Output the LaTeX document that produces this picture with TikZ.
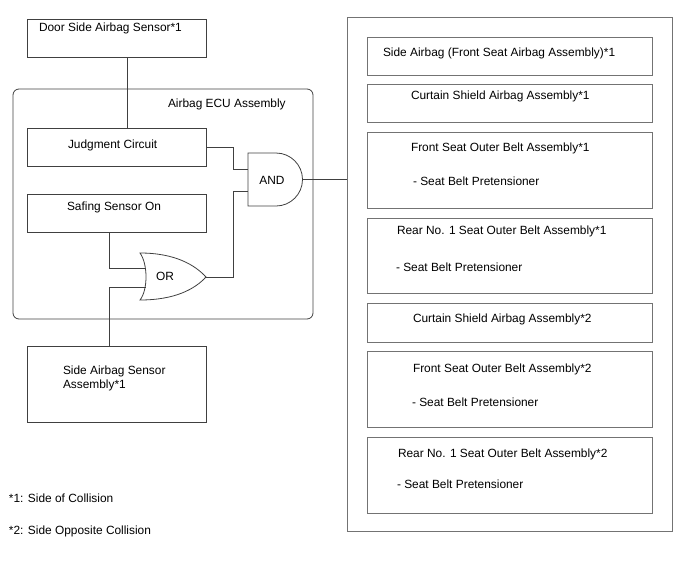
\documentclass[tikz,border=0pt]{standalone}
\usepackage{fontspec}
\setmainfont{Liberation Sans}
\usetikzlibrary{calc}
\begin{document}
\begin{tikzpicture}[x=1pt,y=1pt,
  font=\fontsize{11.9}{14}\selectfont,
  ln/.style={draw=black!75,line width=0.8pt},
  lbox/.style={rectangle,inner sep=0pt,outer sep=0pt,draw=black!75,line width=0.8pt},
  rbox/.style={rectangle,inner sep=0pt,outer sep=0pt,draw=black!55,line width=0.8pt},
  txt/.style={anchor=base west,inner sep=0pt,outer sep=0pt,text=black,align=left},
  ctxt/.style={anchor=center,inner sep=0pt,text=black}]
\useasboundingbox (0,0) rectangle (688,-560);

% left side boxes
\node[lbox,minimum width=179,minimum height=38] (door) at (116.5,-38) {};
\node[lbox,rounded corners=6,minimum width=300,minimum height=230] (ecu) at (163,-204) {};
\node[lbox,minimum width=179,minimum height=38] (jc) at (116.5,-147) {};
\node[lbox,minimum width=179,minimum height=38] (saf) at (116.5,-213) {};
\node[lbox,minimum width=179,minimum height=76] (side) at (116.5,-384) {};

\node[txt] (tdoor) at (39,-31.5) {Door Side Airbag Sensor*1};
\node[txt] (tecu) at (168,-107) {Airbag ECU Assembly};
\node[txt] (tjc) at (68,-148) {Judgment Circuit};
\node[txt] (tsaf) at (67,-210) {Safing Sensor On};
\node[txt] (tside) at (63,-388) {Side Airbag Sensor\\Assembly*1};

% gates
\draw[ln] (248,-153) -- (276,-153) arc[start angle=90,end angle=-90,radius=26.5] -- (248,-206) -- cycle;
\node[ctxt] (tand) at (272,-180) {AND};
\draw[ln] (140,-253) .. controls (175,-253) and (195,-265) .. (206,-277)
  .. controls (195,-289) and (175,-300) .. (140,-300)
  .. controls (148,-290) and (148,-264) .. (140,-253) -- cycle;
\node[ctxt] (tor) at (165,-276) {OR};

\coordinate (andA) at (248,-169);
\coordinate (andB) at (248,-191);
\coordinate (andY) at (302.5,-179.5);
\coordinate (orA) at (145.5,-268);
\coordinate (orB) at (145.5,-287);
\coordinate (orY) at (206,-277);

% right side
\node[rbox,minimum width=325,minimum height=514] (big) at (509.5,-274) {};
\node[rbox,minimum width=285,minimum height=38] (r1) at (509.5,-56) {};
\node[rbox,minimum width=285,minimum height=38] (r2) at (509.5,-103) {};
\node[rbox,minimum width=285,minimum height=76] (r3) at (509.5,-170) {};
\node[rbox,minimum width=285,minimum height=75] (r4) at (509.5,-255.5) {};
\node[rbox,minimum width=285,minimum height=39] (r5) at (509.5,-322.5) {};
\node[rbox,minimum width=285,minimum height=76] (r6) at (509.5,-389) {};
\node[rbox,minimum width=285,minimum height=76] (r7) at (509.5,-475) {};

\node[txt] (t1) at (383,-56) {Side Airbag (Front Seat Airbag Assembly)*1};
\node[txt] (t2) at (411,-99) {Curtain Shield Airbag Assembly*1};
\node[txt] (t3a) at (411,-151) {Front Seat Outer Belt Assembly*1};
\node[txt] (t3b) at (413,-185) {- Seat Belt Pretensioner};
\node[txt] (t4a) at (397,-234) {Rear No. 1 Seat Outer Belt Assembly*1};
\node[txt] (t4b) at (396,-271) {- Seat Belt Pretensioner};
\node[txt] (t5) at (413,-322) {Curtain Shield Airbag Assembly*2};
\node[txt] (t6a) at (413,-372) {Front Seat Outer Belt Assembly*2};
\node[txt] (t6b) at (412,-406) {- Seat Belt Pretensioner};
\node[txt] (t7a) at (398,-457) {Rear No. 1 Seat Outer Belt Assembly*2};
\node[txt] (t7b) at (397,-488) {- Seat Belt Pretensioner};

% footnotes
\node[txt] (f1) at (9,-502) {*1: Side of Collision};
\node[txt] (f2) at (9,-534) {*2: Side Opposite Collision};

% connectors
\draw[ln] (door.south -| 127,0) -- (jc.north -| 127,0);
\draw[ln] (jc.east) -| ($(andA)+(-15,0)$) -- (andA);
\draw[ln] (orY) -| ($(andB)+(-15,0)$) -- (andB);
\draw[ln] (saf.south -| 109,0) |- (orA);
\draw[ln] (side.north -| 109,0) |- (orB);
\draw[ln] (andY) -- (big.west |- andY);
\end{tikzpicture}
\end{document}
